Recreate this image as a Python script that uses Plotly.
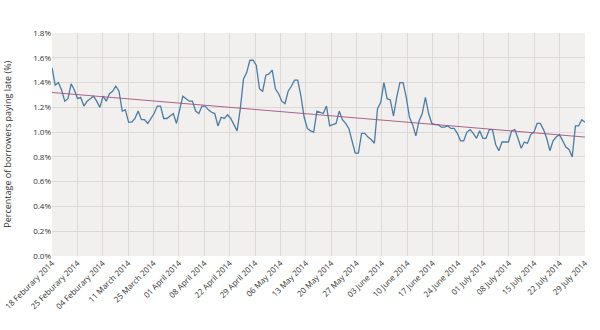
import plotly.graph_objects as go
import numpy as np

tick_labels = [
    "18 Feburary 2014", "25 Feburary 2014", "04 Feburary 2014", "11 March 2014",
    "25 March 2014", "01 April 2014", "08 April 2014", "22 April 2014",
    "29 April 2014", "06 May 2014", "13 May 2014", "20 May 2014",
    "27 May 2014", "03 June 2014", "10 June 2014", "17 June 2014",
    "24 June 2014", "01 July 2014", "08 July 2014", "15 July 2014",
    "22 July 2014", "29 July 2014",
]

late_pct = [
    1.52, 1.38, 1.40, 1.34, 1.25, 1.27, 1.39, 1.34, 1.27, 1.28,
    1.21, 1.25, 1.27, 1.29, 1.25, 1.20, 1.29, 1.25, 1.31, 1.33,
    1.37, 1.33, 1.17, 1.18, 1.08, 1.08, 1.11, 1.17, 1.10, 1.10,
    1.07, 1.11, 1.15, 1.21, 1.21, 1.11, 1.11, 1.13, 1.15, 1.07,
    1.17, 1.29, 1.27, 1.25, 1.25, 1.17,
    1.15, 1.21, 1.21, 1.18, 1.16, 1.15, 1.05, 1.12, 1.11, 1.14,
    1.11, 1.06, 1.01, 1.19, 1.43, 1.48, 1.58, 1.58, 1.54, 1.35,
    1.33, 1.46, 1.47, 1.50, 1.35, 1.31, 1.25, 1.23, 1.33, 1.37,
    1.42, 1.42, 1.29, 1.12, 1.03, 1.01, 1.00, 1.17, 1.16, 1.15,
    1.21, 1.05, 1.06, 1.07, 1.17, 1.10, 1.07, 1.03, 0.93, 0.83,
    0.83, 0.99, 0.99, 0.96, 0.94, 0.91, 1.19, 1.24, 1.40, 1.27,
    1.26, 1.13, 1.28, 1.40, 1.40,
    1.28, 1.12, 1.06, 0.97, 1.09, 1.15, 1.28, 1.15, 1.07, 1.06,
    1.06, 1.04, 1.04, 1.05, 1.03, 1.03, 0.99, 0.93, 0.93, 1.00,
    1.02, 0.99, 0.95, 1.01, 0.95, 0.95, 1.02, 1.02, 0.90, 0.85,
    0.92, 0.92, 0.92, 1.01, 1.02, 0.95, 0.87, 0.92, 0.91, 0.98,
    1.00, 1.07, 1.07, 1.02, 0.95, 0.85, 0.93, 0.96, 0.98, 0.93,
    0.88, 0.86, 0.80, 1.05, 1.05, 1.10, 1.08,
]

trend_start = 1.32
trend_end = 0.96

y_ticks = [0.0, 0.2, 0.4, 0.6, 0.8, 1.0, 1.2, 1.4, 1.6, 1.8]

n = len(late_pct)
x = list(range(n))
tick_pos = np.linspace(0, n - 1, len(tick_labels))

fig = go.Figure()
fig.add_trace(go.Scatter(
    x=x, y=late_pct, mode="lines",
    line=dict(color="#4a7ca4", width=1.3),
    showlegend=False,
))
fig.add_trace(go.Scatter(
    x=[0, n - 1], y=[trend_start, trend_end], mode="lines",
    line=dict(color="#a2527f", width=0.9),
    showlegend=False,
))

font_family = "Open Sans, Noto Sans, sans-serif"
fig.update_layout(
    width=600, height=330,
    margin=dict(l=52, r=15, t=33, b=74),
    paper_bgcolor="white",
    plot_bgcolor="#f2f0ee",
    font=dict(family=font_family, size=8, color="#333333"),
    xaxis=dict(
        range=[0, n - 1], automargin=False,
        tickmode="array", tickvals=list(tick_pos), ticktext=tick_labels,
        tickangle=-45, showgrid=True, gridcolor="#dcd9d7", gridwidth=1,
        zeroline=False, showline=False, ticks="",
        tickfont=dict(size=8, color="#333333"),
    ),
    yaxis=dict(
        range=[0, 1.8], automargin=False,
        tickmode="array", tickvals=y_ticks,
        ticktext=[f"{v:.1f}%" for v in y_ticks],
        showgrid=True, gridcolor="#dcd9d7", gridwidth=1,
        zeroline=False, showline=False, ticks="",
        tickfont=dict(size=8, color="#333333"),
    ),
    annotations=[dict(
        text="Percentage of borrowers paying late (%)",
        xref="paper", yref="paper", x=-0.084, y=0.5,
        xanchor="center", yanchor="middle", textangle=-90,
        showarrow=False, font=dict(size=9, color="#333333"),
    )],
)

fig.write_html("out.html")
